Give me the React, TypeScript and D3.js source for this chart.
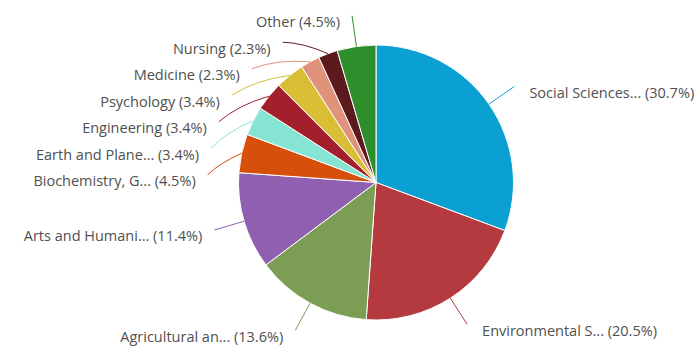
import React from "react";
import * as d3 from "d3";

const categories = [
  "Social Sciences...",
  "Environmental S...",
  "Agricultural an...",
  "Arts and Humani...",
  "Biochemistry, G...",
  "Earth and Plane...",
  "Engineering",
  "Psychology",
  "Medicine",
  "Nursing",
  "Other",
];
const counts = [27, 18, 12, 10, 4, 3, 3, 3, 2, 2, 4];
const percents = ["30.7%", "20.5%", "13.6%", "11.4%", "4.5%", "3.4%", "3.4%", "3.4%", "2.3%", "2.3%", "4.5%"];
const colors = [
  "#0aa0d2",
  "#b53a40",
  "#7b9e54",
  "#8f60b0",
  "#d6500c",
  "#86e4d3",
  "#a31f2c",
  "#d9bd35",
  "#e0937a",
  "#5c1a1f",
  "#2e8e2b",
];

const W = 699;
const H = 347;
const cx = 376;
const cy = 182.5;
const r = 137.5;
const dist = 31;
const gap = 26.5;

export default function App() {
  const pie = d3.pie<number>().sort(null).value((d) => d).startAngle(0).endAngle(2 * Math.PI);
  const arcs = pie(counts);
  const arcGen = d3.arc<d3.PieArcDatum<number>>().innerRadius(0).outerRadius(r);
  const R = r + dist;

  type L = { i: number; mid: number; side: number; y: number; x: number };
  const labels: L[] = arcs.map((a, i) => {
    const mid = (a.startAngle + a.endAngle) / 2;
    const side = Math.sin(mid) >= 0 ? 1 : -1;
    return { i, mid, side, y: cy - R * Math.cos(mid), x: 0 };
  });
  [1, -1].forEach((s) => {
    const group = labels.filter((l) => l.side === s).sort((a, b) => a.y - b.y);
    for (let k = 1; k < group.length; k++) {
      if (group[k].y < group[k - 1].y + gap) group[k].y = group[k - 1].y + gap;
    }
  });
  labels.forEach((l) => {
    const dy = Math.max(-R, Math.min(R, l.y - cy));
    l.x = cx + l.side * Math.sqrt(R * R - dy * dy);
  });

  return (
    <svg width={W} height={H} style={{ position: "absolute", left: 0, top: 0 }}>
      <g transform={`translate(${cx},${cy})`}>
        {arcs.map((a, i) => (
          <path key={i} d={arcGen(a) || ""} fill={colors[i]} stroke="#ffffff" strokeWidth={1} strokeLinejoin="round" />
        ))}
      </g>
      {labels.map((l) => {
        const sin = Math.sin(l.mid);
        const cos = -Math.cos(l.mid);
        const tx = cx + r * sin;
        const ty = cy + r * cos;
        const len = Math.hypot(tx - l.x, ty - l.y);
        const k = 0.12 * len;
        const qx = (l.x + tx) / 2 + sin * k;
        const qy = (l.y + ty) / 2 + cos * k;
        const path = `M${l.x},${l.y}Q${qx},${qy} ${tx},${ty}`;
        return (
          <g key={l.i}>
            <path d={path} fill="none" stroke={colors[l.i]} strokeWidth={1} />
            <text
              x={l.x + (l.side > 0 ? 15 : -12)}
              y={l.y + 6}
              dominantBaseline="central"
              textAnchor={l.side > 0 ? "start" : "end"}
              fontFamily="'Open Sans', sans-serif"
              fontSize={14.5}
              fill="#505050"
            >
              {`${categories[l.i]} (${percents[l.i]})`}
            </text>
          </g>
        );
      })}
    </svg>
  );
}
